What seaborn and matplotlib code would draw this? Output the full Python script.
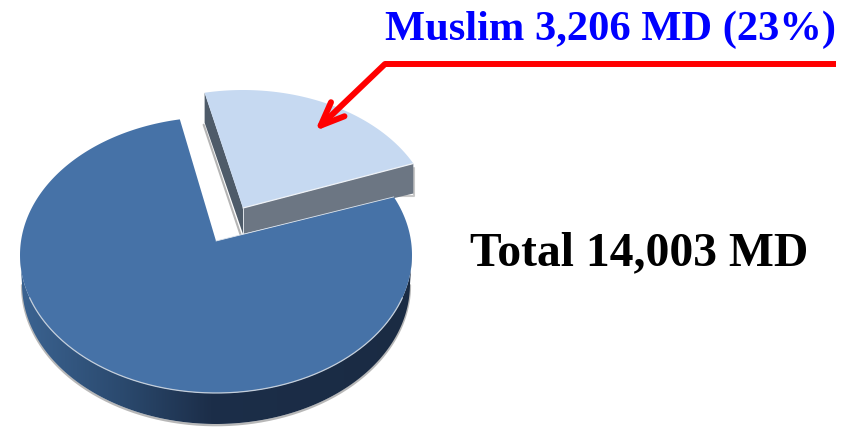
import numpy as np
import pandas as pd
import matplotlib.pyplot as plt
from matplotlib.patches import Polygon
import seaborn as sns

# values from the chart
groups = ["Muslim", "Other"]
patients = [3206, 10797]
total_label = "Total 14,003 MD"
muslim_label = "Muslim 3,206 MD (23%)"

sns.set_style("white")
plt.rcParams["font.family"] = ["Liberation Serif", "DejaVu Serif"]
top_colors = sns.color_palette(["#c6d9f1", "#4672a7"])

df = pd.DataFrame({"group": groups, "patients": patients})
df["sweep"] = df["patients"] / df["patients"].sum() * 360


def rim(cx, cy, rx, ry, ax0, ay0, start, sweep, n=300):
    # cast rays from the apex so the pie angles stay true with the perspective shift
    th = np.radians(np.linspace(start, start + sweep, n))
    dx, dy = rx * np.cos(th), ry * np.sin(th)
    ox, oy = ax0 - cx, ay0 - cy
    a = (dx / rx) ** 2 + (dy / ry) ** 2
    b = 2 * (ox * dx / rx**2 - oy * dy / ry**2)
    c = (ox / rx) ** 2 + (oy / ry) ** 2 - 1
    t = (-b + np.sqrt(b**2 - 4 * a * c)) / (2 * a)
    return ax0 + t * dx, ay0 - t * dy


fig = plt.figure(figsize=(8.54, 4.28), dpi=100)
ax = fig.add_axes([0, 0, 1, 1])
ax.set_xlim(0, 854)
ax.set_ylim(428, 0)
ax.axis("off")

sweep_muslim = df.loc[df.group == "Muslim", "sweep"].iloc[0]
sweep_other = df.loc[df.group == "Other", "sweep"].iloc[0]

# exploded slice
sx, sy = rim(243, 222, 190, 132, 243, 208, 20.6, sweep_muslim)
ax.plot([sx[-1] - 1, 241], [sy[-1] + 32, 236], color="#b5b5b5", lw=1.5, zorder=1)
ax.plot([sx[0] + 1, sx[0] + 1, 394], [sy[0] + 4, sy[0] + 32, sy[0] + 32], color="#c8c8c8", lw=1.5, zorder=1)
ax.add_patch(Polygon([(sx[-1], sy[-1]), (243, 208), (243, 234), (sx[-1], sy[-1] + 30)],
                     fc="#4e5b69", ec="none", zorder=2))
ax.add_patch(Polygon([(243, 208), (sx[0], sy[0]), (sx[0], sy[0] + 30), (243, 234)],
                     fc="#6c7683", ec="none", zorder=2))
ax.fill(np.r_[243, sx], np.r_[208, sy], color=top_colors[0], lw=0, zorder=3)
ax.plot([243, sx[0]], [208, sy[0]], color="#eef2f7", lw=0.9, zorder=4)
ax.plot([243, 243], [208, 234], color="#dfe4ea", lw=0.7, zorder=4)

# side of the main pie, a gradient clipped to the band below the top
th = np.radians(np.linspace(0, 180, 300))
low_x = 216 + 194 * np.cos(th)
low_y = 284 + 140 * np.sin(th)
top_x = 216 + 196 * np.cos(th)
top_y = 255 + 138 * np.sin(th)
ax.plot(low_x, low_y + 1.2, color="#b8b8b8", lw=1.6, zorder=4)
band = Polygon(np.c_[np.r_[low_x, top_x[::-1]], np.r_[low_y, top_y[::-1]]],
               fc="none", ec="none", zorder=5)
ax.add_patch(band)
stops = np.array([[0x3b, 0x63, 0x91], [0x2b, 0x4a, 0x6f], [0x1c, 0x2e, 0x49], [0x1a, 0x2b, 0x43]]) / 255
pos = [20, 120, 210, 412]
xs = np.linspace(20, 412, 200)
grad = np.stack([np.interp(xs, pos, stops[:, i]) for i in range(3)], axis=-1)[None, :, :]
img = ax.imshow(grad, extent=(20, 412, 428, 240), aspect="auto", zorder=5)
img.set_clip_path(band)
ax.set_xlim(0, 854)
ax.set_ylim(428, 0)

# top of the main pie
mx, my = rim(216, 255, 196, 138, 216, 241, 19.4 + sweep_muslim, sweep_other)
ax.fill(np.r_[216, mx], np.r_[241, my], color=top_colors[1], lw=0, zorder=6)
ax.plot(top_x[30:270], top_y[30:270], color="#c3cedb", lw=0.9, zorder=7)
ax.plot([216, mx[-1]], [241, my[-1]], color="#dfe6ee", lw=0.6, zorder=7)

# arrow and labels
ax.plot([836, 385], [64, 64], color="#ff0000", lw=4.3, solid_capstyle="butt", zorder=8)
ax.annotate("", xy=(315, 131), xytext=(385, 64),
            arrowprops=dict(arrowstyle="->,head_length=17,head_width=7", mutation_scale=1,
                            color="#ff0000", lw=4.3, shrinkA=0, shrinkB=0,
                            capstyle="round"), zorder=9)
ax.text(385, 40, muslim_label, color="#0000ff", fontsize=30.6, fontweight="bold", ha="left", va="baseline")
ax.text(470, 265, total_label, color="black", fontsize=34.3, fontweight="bold", ha="left", va="baseline")

fig.savefig("out.png", dpi=100)
